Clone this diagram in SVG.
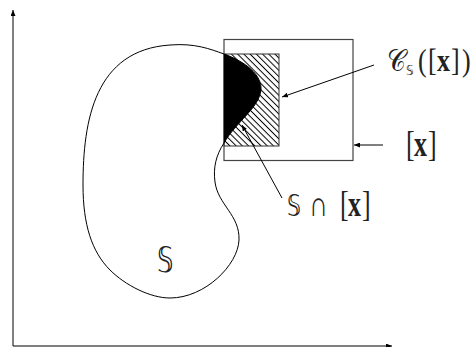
<svg xmlns="http://www.w3.org/2000/svg" width="475" height="347" viewBox="0 0 475 347">
<style>
.ln{fill:none;stroke:#000;stroke-width:1}
.box{fill:none;stroke:#444;stroke-width:1.2}
.t{font-family:"Liberation Serif","DejaVu Sans",serif;font-size:26px;fill:#222}
.ds{font-family:"DejaVu Sans",sans-serif}
.b{font-weight:bold}
</style>
<defs>
<pattern id="hatch" patternUnits="userSpaceOnUse" width="4.4" height="4.4" patternTransform="rotate(45)">
<line x1="0" y1="2.2" x2="4.4" y2="2.2" stroke="#000" stroke-width="1"/>
</pattern>
<marker id="ah" markerWidth="7" markerHeight="5" refX="6" refY="2.5" orient="auto" markerUnits="userSpaceOnUse">
<path d="M0,0 L6,2.5 L0,5 Z" fill="#000"/>
</marker>
</defs>
<g id="axes">
<line class="ln" x1="13" y1="346" x2="13" y2="10" marker-end="url(#ah)" stroke="#333"/>
<line class="ln" x1="13" y1="346" x2="392" y2="346" marker-end="url(#ah)" stroke="#333"/>
</g>
<g id="box-x">
<rect class="box" x="224" y="39.5" width="129" height="121"/>
</g>
<g id="contractor">
<rect x="224" y="54" width="55" height="92" fill="url(#hatch)" stroke="#333" stroke-width="1"/>
<path d="M224,54 C246,62 262,75 261,90 C259,108 236,122 224,143 Z" fill="#000"/>
</g>
<g id="set-S">
<path class="ln" d="M224,54 C246,62 262,75 261,90 C259,108 236,122 224,143 C216,155 213,168 215,182 C218,205 240,215 239,240 C238,265 205,298 170,298 C150,298 125,285 110,270 C92,252 83,225 83,185 C83,120 95,50 170,45 C195,43 210,49 224,54 Z"/>
<text class="t ds" transform="translate(157,272) scale(1,1.35)" font-size="24">𝕊</text>
</g>
<g id="connectors">
<line class="ln" x1="374" y1="65" x2="282" y2="97" marker-end="url(#ah)"/>
<line class="ln" x1="383" y1="145" x2="354" y2="145" marker-end="url(#ah)"/>
<line class="ln" x1="282" y1="198" x2="242" y2="125" marker-end="url(#ah)"/>
</g>
<g id="labels">
<text class="t" transform="translate(387,70.5) scale(1,1.2)" font-size="24"><tspan x="0" class="ds">𝒞</tspan><tspan x="19" dy="4" font-size="12" class="ds">𝕊</tspan><tspan x="31" dy="-4">(</tspan><tspan x="41">[</tspan><tspan x="50" class="b">x</tspan><tspan x="64">]</tspan><tspan x="75">)</tspan></text>
<text class="t" transform="translate(406,155.5) scale(1,1.35)"><tspan x="0">[</tspan><tspan x="8" class="b">x</tspan><tspan x="22">]</tspan></text>
<text class="t" transform="translate(287,215.5) scale(1,1.35)"><tspan x="0" class="ds" font-size="22">𝕊</tspan><tspan x="22">∩</tspan><tspan x="53">[</tspan><tspan x="61" class="b">x</tspan><tspan x="75">]</tspan></text>
</g>
</svg>
